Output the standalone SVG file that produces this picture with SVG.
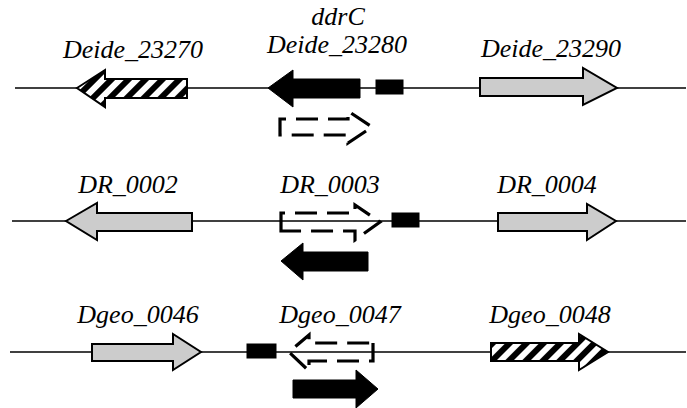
<svg xmlns="http://www.w3.org/2000/svg" width="687" height="408" viewBox="0 0 687 408">
<style>
.bb{stroke:#000;stroke-width:1.6;fill:none}
.gray{fill:#cccccc;stroke:#000;stroke-width:2;stroke-linejoin:miter}
.hatch{fill:url(#stripes);stroke:#000;stroke-width:2}
.black{fill:#000;stroke:#000;stroke-width:1}
.dash{fill:none;stroke:#000;stroke-width:3.2;stroke-dasharray:22 10}
.lbl{font-style:italic;font-size:26px;fill:#000;text-anchor:middle}
</style>
<defs>
<pattern id="stripes" patternUnits="userSpaceOnUse" width="12" height="12" patternTransform="rotate(45)">
<rect width="12" height="12" fill="#fff"/>
<rect width="6" height="12" fill="#000"/>
</pattern>
</defs>
<g id="connectors">
<line class="bb" x1="15" y1="88" x2="686" y2="88"/>
<line class="bb" x1="12" y1="221" x2="686" y2="221"/>
<line class="bb" x1="10" y1="352" x2="686" y2="352"/>
</g>
<g font-family="'Liberation Serif', 'DejaVu Serif', serif">
<g id="Deide_23270">
<polygon class="hatch" points="77,88 105,70 105,79 187,79 187,98 105,98 105,107"/>
<text class="lbl" x="133" y="58">Deide_23270</text>
</g>
<g id="Deide_23280">
<polygon class="black" points="268,88 293,70 293,79 360,79 360,98 293,98 293,107"/>
<rect class="black" x="376" y="80" width="27" height="14"/>
<text class="lbl" x="338" y="25">ddrC</text>
<text class="lbl" x="337" y="53">Deide_23280</text>
<path class="dash" d="M280,135 V119 H348 V111 L372,127 L348,143 V135 Z"/>
</g>
<g id="Deide_23290">
<polygon class="gray" points="480,78 583,78 583,68 617,88 583,105 583,96 480,96"/>
<text class="lbl" x="551" y="57">Deide_23290</text>
</g>
<g id="DR_0002">
<polygon class="gray" points="66,221 97,203 97,213 192,213 192,231 97,231 97,240"/>
<text class="lbl" x="128" y="193">DR_0002</text>
</g>
<g id="DR_0003">
<path class="dash" d="M281,231 V213 H355 V205 L380,222 L355,240 V231 Z"/>
<rect class="black" x="392" y="213" width="27" height="14"/>
<polygon class="black" points="281,261 303,243 303,252 368,252 368,271 303,271 303,280"/>
<text class="lbl" x="330" y="193">DR_0003</text>
</g>
<g id="DR_0004">
<polygon class="gray" points="498,213 587,213 587,204 616,221 587,240 587,231 498,231"/>
<text class="lbl" x="547" y="193">DR_0004</text>
</g>
<g id="Dgeo_0046">
<polygon class="gray" points="92,344 173,344 173,334 201,352 173,370 173,361 92,361"/>
<text class="lbl" x="138" y="323">Dgeo_0046</text>
</g>
<g id="Dgeo_0047">
<rect class="black" x="247" y="344" width="29" height="14"/>
<path class="dash" d="M373,343 V361 H309 V371 L289,352 L309,335 V343 Z"/>
<polygon class="black" points="293,380 356,380 356,370 378,389 356,408 356,398 293,398"/>
<text class="lbl" x="340" y="323">Dgeo_0047</text>
</g>
<g id="Dgeo_0048">
<polygon class="hatch" points="491,343 579,343 579,334 608,352 579,370 579,361 491,361"/>
<text class="lbl" x="550" y="323">Dgeo_0048</text>
</g>
</g>
</svg>
